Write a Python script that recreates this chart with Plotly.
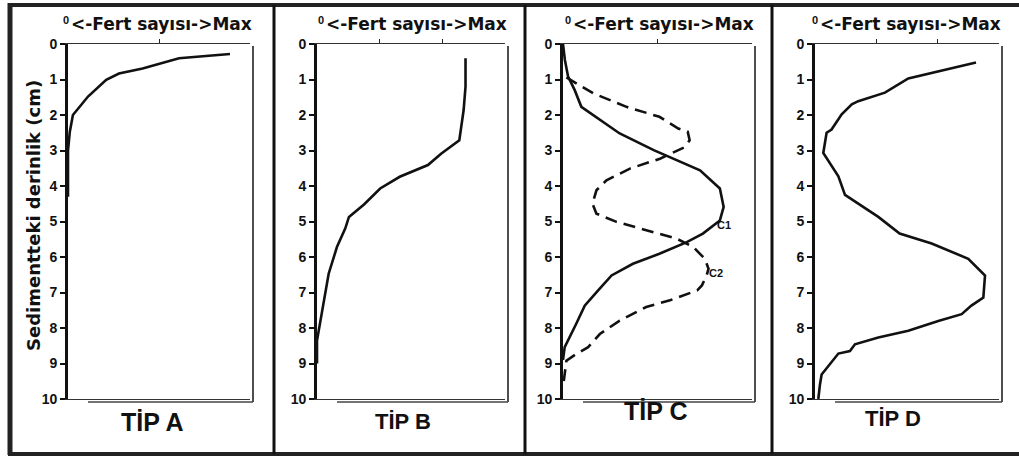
import plotly.graph_objects as go

W, H = 1019, 459

# ---- data (x: 0 = none, 1 = Max ; y: depth in cm) ----
a_x = [0.89, 0.61, 0.41, 0.28, 0.21, 0.11, 0.027, 0.01, 0.0, 0.0]
a_y = [0.28, 0.40, 0.69, 0.83, 1.01, 1.48, 2.0, 2.47, 3.0, 4.3]

b_x = [0.79, 0.79, 0.78, 0.757, 0.66, 0.59, 0.44, 0.336, 0.25, 0.17, 0.15, 0.106, 0.062, 0.044, 0.023, 0.0, 0.0]
b_y = [0.40, 1.2, 1.86, 2.71, 3.09, 3.41, 3.74, 4.07, 4.52, 4.87, 5.2, 5.72, 6.47, 7.04, 7.69, 8.35, 9.0]

c1_x = [0.0, 0.01, 0.027, 0.062, 0.097, 0.195, 0.30, 0.48, 0.64, 0.725, 0.83, 0.85, 0.83, 0.74, 0.655, 0.51, 0.37, 0.257, 0.186, 0.115, 0.07, 0.035, 0.009, 0.0]
c1_y = [0.0, 0.45, 0.92, 1.3, 1.77, 2.14, 2.52, 2.99, 3.37, 3.56, 4.07, 4.59, 4.97, 5.34, 5.58, 5.91, 6.19, 6.52, 6.94, 7.37, 7.88, 8.26, 8.54, 8.9]

c2_x = [0.018, 0.16, 0.336, 0.51, 0.61, 0.66, 0.67, 0.646, 0.513, 0.354, 0.23, 0.177, 0.156, 0.177, 0.283, 0.44, 0.60, 0.69, 0.75, 0.77, 0.76, 0.735, 0.71, 0.566, 0.44, 0.30, 0.195, 0.133, 0.07, 0.018, 0.01, 0.0]
c2_y = [0.94, 1.39, 1.77, 2.05, 2.38, 2.47, 2.71, 2.9, 3.23, 3.51, 3.84, 4.12, 4.5, 4.78, 5.01, 5.25, 5.48, 5.72, 6.05, 6.33, 6.52, 6.8, 6.94, 7.22, 7.41, 7.79, 8.17, 8.54, 8.73, 8.92, 9.29, 9.67]

d_x = [0.875, 0.76, 0.634, 0.507, 0.38, 0.235, 0.20, 0.145, 0.09, 0.063, 0.045, 0.08, 0.127, 0.163, 0.235, 0.344, 0.46, 0.634, 0.833, 0.88, 0.924, 0.915, 0.85, 0.797, 0.67, 0.507, 0.344, 0.217, 0.19, 0.127, 0.08, 0.036, 0.027, 0.018]
d_y = [0.52, 0.66, 0.80, 0.97, 1.37, 1.61, 1.70, 1.98, 2.41, 2.5, 3.07, 3.36, 3.73, 4.25, 4.49, 4.87, 5.34, 5.62, 6.05, 6.29, 6.52, 7.14, 7.37, 7.61, 7.8, 8.08, 8.27, 8.46, 8.65, 8.72, 9.03, 9.31, 9.59, 10.0]

depth_ticks = list(range(0, 11))
depth_labels = [str(v) for v in depth_ticks]
panel_names = ["TİP A", "TİP B", "TİP C", "TİP D"]
zero_mark = "0"
top_title = "&lt;-Fert sayısı-&gt;Max"
y_title = "Sedimentteki derinlik (cm)"

# ---- layout geometry (pixels) ----
plots_px = [(68, 250), (317, 505), (563, 752), (815, 999)]
y_top, y_bot = 44, 399
top_ticks = [[0.5], [1 / 3, 2 / 3], [0.5], [1 / 3, 2 / 3]]
name_pos = [(152, 422, 25), (403, 421, 22), (655, 411, 25), (893, 418, 22)]
title_width = 183


def px(x):
    return x / W


def py(y):
    return 1 - y / H


fig = go.Figure()
series = [[(a_x, a_y, "solid")], [(b_x, b_y, "solid")],
          [(c1_x, c1_y, "solid"), (c2_x, c2_y, "12px,7px")], [(d_x, d_y, "solid")]]

for i, lst in enumerate(series):
    sfx = "" if i == 0 else str(i + 1)
    for xs, ys, dash in lst:
        fig.add_trace(go.Scatter(x=xs, y=ys, mode="lines", xaxis="x" + sfx, yaxis="y" + sfx,
                                 line=dict(color="#111", width=2.6, dash=dash), showlegend=False,
                                 hoverinfo="skip"))

fontfam = "Liberation Sans, Arial, sans-serif"
titlefam = "DejaVu Sans, Verdana, sans-serif"
for i, (x0, x1) in enumerate(plots_px):
    sfx = "" if i == 0 else str(i + 1)
    fig.layout["xaxis" + sfx] = dict(domain=[px(x0), px(x1)], range=[0, 1], side="top",
                                     anchor="y" + sfx, showline=True, mirror=True, linecolor="#333",
                                     linewidth=1.3, ticks="outside", ticklen=4, tickwidth=1.3,
                                     tickcolor="#222", tickvals=top_ticks[i], showticklabels=False,
                                     showgrid=False, zeroline=False, fixedrange=True, automargin=False)
    fig.layout["yaxis" + sfx] = dict(domain=[py(y_bot), py(y_top)], range=[10, 0],
                                     anchor="x" + sfx, showline=True, linecolor="#111", linewidth=2.6,
                                     ticks="outside", ticklen=5, tickwidth=1.5, tickcolor="#111",
                                     tickvals=depth_ticks, ticktext=depth_labels,
                                     tickfont=dict(family=fontfam, size=14, color="#111", weight="bold"),
                                     showgrid=False, zeroline=False, fixedrange=True, automargin=False)
    # right double line and shadow
    fig.add_shape(type="line", xref="paper", yref="paper", x0=px(x1 + 3), x1=px(x1 + 3),
                  y0=py(y_top + 2), y1=py(y_bot + 3), line=dict(color="#222", width=1.6))
    fig.add_shape(type="line", xref="paper", yref="paper", x0=px(x0 + 20), x1=px(x1 + 3),
                  y0=py(y_bot + 3), y1=py(y_bot + 3), line=dict(color="#444", width=1.6))
    # top title (small raised zero + main text)
    fig.add_annotation(xref="paper", yref="paper", x=px(x1 + 4), y=py(24), xanchor="right",
                       yanchor="middle", text=top_title, showarrow=False,
                       font=dict(family=titlefam, size=17, color="#111", weight="bold"))
    fig.add_annotation(xref="paper", yref="paper", x=px(x1 + 4 - title_width), y=py(20),
                       xanchor="right", yanchor="middle", text=zero_mark, showarrow=False,
                       font=dict(family=fontfam, size=11, color="#111", weight="bold"))
    nx, ny, ns = name_pos[i]
    fig.add_annotation(xref="paper", yref="paper", x=px(nx), y=py(ny), xanchor="center",
                       yanchor="middle", text=panel_names[i], showarrow=False,
                       font=dict(family=fontfam, size=ns, color="#111", weight="bold"))

# y axis title
fig.add_annotation(xref="paper", yref="paper", x=px(33), y=py(216), text=y_title, textangle=-90,
                   showarrow=False, xanchor="center", yanchor="middle",
                   font=dict(family=titlefam, size=18, color="#111", weight="bold"))
# curve labels in panel C
fig.add_annotation(xref="paper", yref="paper", x=px(733), y=py(225), text="C1", showarrow=False,
                   font=dict(family=fontfam, size=11, color="#111", weight="bold"))
fig.add_annotation(xref="paper", yref="paper", x=px(725), y=py(273), text="C2", showarrow=False,
                   font=dict(family=fontfam, size=11, color="#111", weight="bold"))

# outer frame and separators
frame = "#222"
fig.add_shape(type="line", xref="paper", yref="paper", x0=px(10), x1=px(10), y0=py(3), y1=py(455),
              line=dict(color=frame, width=5))
fig.add_shape(type="line", xref="paper", yref="paper", x0=px(8), x1=1, y0=py(5), y1=py(5),
              line=dict(color=frame, width=4))
fig.add_shape(type="line", xref="paper", yref="paper", x0=px(8), x1=1, y0=py(454), y1=py(454),
              line=dict(color=frame, width=4))
for sx in [274, 525, 772]:
    fig.add_shape(type="line", xref="paper", yref="paper", x0=px(sx), x1=px(sx), y0=py(5),
                  y1=py(454), line=dict(color="#111", width=3))

fig.update_layout(width=W, height=H, margin=dict(l=0, r=0, t=0, b=0), paper_bgcolor="white",
                  plot_bgcolor="white", showlegend=False)
fig.write_html("out.html")
